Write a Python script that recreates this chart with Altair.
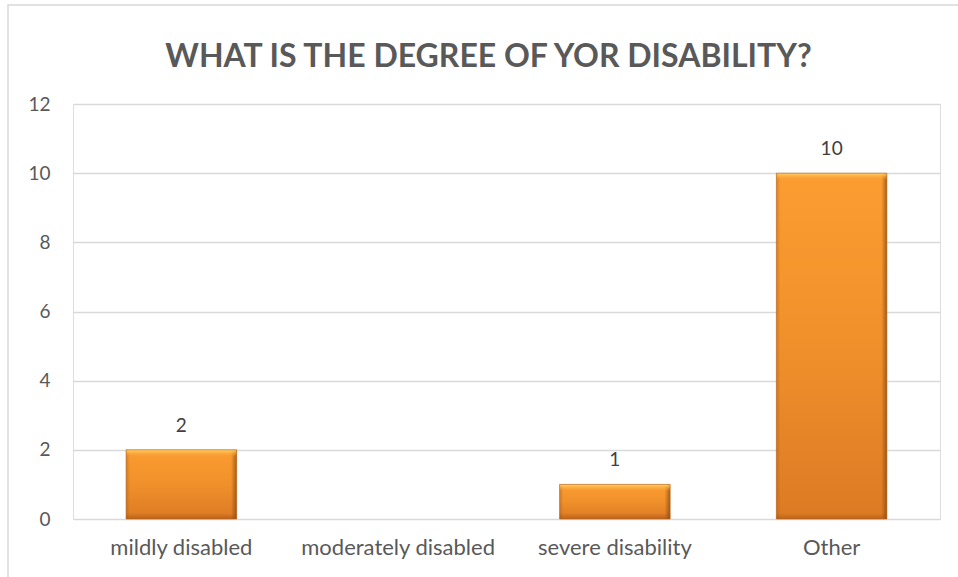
import altair as alt
import pandas as pd

title_text = "WHAT IS THE DEGREE OF YOR DISABILITY?"
categories = ["mildly disabled", "moderately disabled", "severe disability", "Other"]
counts = [2, 0, 1, 10]
y_ticks = [0, 2, 4, 6, 8, 10, 12]

df = pd.DataFrame({"category": categories, "count": counts})
df_bars = df[df["count"] > 0].assign(base=0)

W, H = 867, 415


def vgrad(stops):
    return alt.Gradient(
        gradient="linear",
        stops=[alt.GradientStop(color=c, offset=o) for o, c in stops],
        x1=0, x2=0, y1=0, y2=1,
    )


def hgrad(stops):
    return alt.Gradient(
        gradient="linear",
        stops=[alt.GradientStop(color=c, offset=o) for o, c in stops],
        x1=0, x2=1, y1=0, y2=0,
    )


body_fill = vgrad([(0, "#FB9D31"), (0.5, "#F0902B"), (1, "#DC7A24")])
side_shade = hgrad([
    (0, "rgba(150,75,10,0.35)"), (0.035, "rgba(150,75,10,0)"),
    (0.95, "rgba(110,55,10,0)"), (1, "rgba(110,55,10,0.6)"),
])
top_bevel = vgrad([(0, "#FFD46A"), (1, "rgba(251,157,49,0)")])
bottom_bevel = vgrad([(0, "rgba(160,80,15,0)"), (1, "rgba(160,80,15,0.55)")])

x_scale = alt.Scale(domain=categories, paddingInner=0.49, paddingOuter=0.245)
y_scale = alt.Scale(domain=[0, 12], nice=False)

x_enc = alt.X(
    "category:N",
    scale=x_scale,
    axis=alt.Axis(
        title=None, labelAngle=0, ticks=False, domain=False,
        labelFont="Lato", labelFontSize=22, labelColor="#595959",
        labelPadding=18, labelLimit=400,
    ),
)
y_enc = alt.Y(
    "count:Q",
    scale=y_scale,
    axis=alt.Axis(
        title=None, values=y_ticks, ticks=False, domain=False,
        grid=True, gridColor="#D9D9D9", gridWidth=1.3,
        labelFont="Lato", labelFontSize=19, labelColor="#595959",
        labelPadding=23,
    ),
)

# chart frame
frame = alt.Chart(pd.DataFrame({"f": [0]})).mark_rect(
    fill=None, stroke="#D9D9D9", strokeWidth=1.5, clip=False
).encode(
    x=alt.value(-65), x2=alt.value(W + 40),
    y=alt.value(-99), y2=alt.value(H + 80),
)

# chart heading
heading = alt.Chart(pd.DataFrame({"t": [title_text]})).mark_text(
    font="Lato", fontSize=32, fontWeight="bold", color="#595959",
    align="center", baseline="alphabetic",
).encode(
    x=alt.value(W / 2 - 18), y=alt.value(-37), text="t:N",
)

base = alt.Chart(df_bars)
x_plain = alt.X("category:N", scale=x_scale)

bars = base.mark_bar(color=body_fill).encode(x=x_enc, y=y_enc)
sides = base.mark_bar(color=side_shade).encode(x=x_plain, y=alt.Y("count:Q", scale=y_scale))
top_strip = base.mark_bar(color=top_bevel, y2Offset=7).encode(
    x=x_plain, y=alt.Y("count:Q", scale=y_scale), y2="count:Q"
)
bottom_strip = base.mark_bar(color=bottom_bevel, yOffset=-6).encode(
    x=x_plain, y=alt.Y("base:Q", scale=y_scale), y2="base:Q"
)
outline = base.mark_bar(
    fill=None, stroke="#B8621C", strokeWidth=1, strokeOpacity=0.6
).encode(x=x_plain, y=alt.Y("count:Q", scale=y_scale))

labels = base.mark_text(
    baseline="alphabetic", dy=-18, font="Lato", fontSize=19, color="#404040"
).encode(
    x=x_plain,
    y=alt.Y("count:Q", scale=y_scale),
    text="count:Q",
)

chart = alt.layer(
    frame, heading, bars, sides, top_strip, bottom_strip, outline, labels
).properties(
    width=W,
    height=H,
    autosize=alt.AutoSizeParams(type="none"),
    padding={"left": 73, "top": 104, "right": 18, "bottom": 58},
).configure_view(stroke=None).configure(background="#FFFFFF")

chart.save("out.html", embed_options={"renderer": "svg", "actions": False})
